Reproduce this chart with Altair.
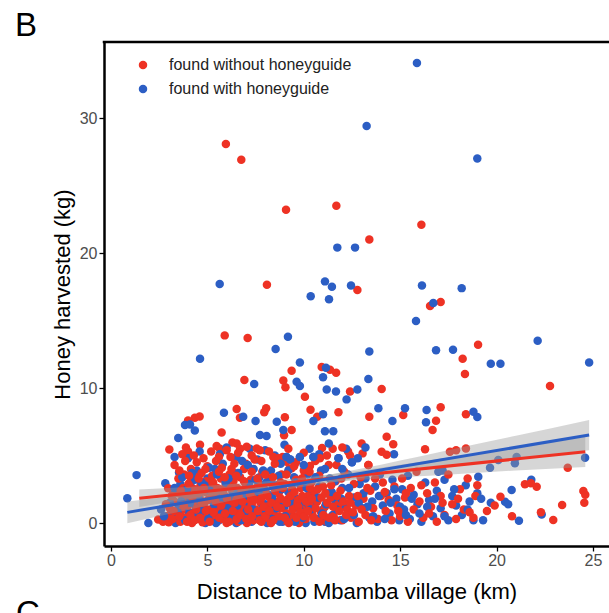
import altair as alt
import pandas as pd

RED = "#EE3224"
BLUE = "#2C5EC4"
FONT = "Liberation Sans"

groups = ["found without honeyguide", "found with honeyguide"]

# ---- red: found without honeyguide (km, kg) ----
red_high = [(5.96,28.07),(6.76,26.9),(9.08,23.2),(11.69,23.5),(16.1,22.1),(13.4,21.0),(8.09,17.65),
            (12.78,17.26),(16.55,16.07),(17.1,16.37),(5.9,13.9),(7.09,13.7),(19.04,13.2),(18.24,12.17),
            (9.37,11.28),(10.93,11.55),(11.36,11.35),(11.68,11.13),(6.92,10.6),(8.94,10.55),(9.05,10.05),
            (12.4,9.75),(10.06,9.36),(18.36,11.04),(14.04,9.92),(22.77,10.15)]
red_mid = [(4.35,7.8),(4.6,7.9),(4.0,7.6),(5.74,6.7),(3.03,5.45),(3.89,5.6),(4.0,5.3),(4.62,5.8),(5.48,5.7),
           (5.65,5.5),(6.52,8.45),(6.69,7.8),(8.05,8.5),(7.95,8.2),(9.02,7.83),(10.35,8.4),(10.7,7.87),(11.8,8.2),
           (9.37,6.89),(8.98,6.5),(6.3,5.97),(10.95,5.55),(11.5,5.5),(12.3,5.3),(15.16,8.0),(13.4,7.88),(17.1,8.57),
           (16.86,7.58),(16.68,6.89),(18.41,8.05),(14.3,6.4),(14.64,5.83),(13.0,5.9),(13.05,5.16),(14.04,5.28),
           (14.3,5.05),(16.29,5.46),(17.58,5.28),(17.9,5.4),(18.41,5.53),(12.4,5.0),(6.0,5.4),(6.52,5.9),(6.7,5.5),
           (7.04,5.65),(7.56,5.53),(7.72,5.4),(8.42,4.9),(8.9,4.9),(10.32,4.22),(10.06,3.68),(10.84,4.8),(9.11,4.54),
           (9.37,4.05),(6.2,4.9),(6.6,5.2),(7.0,4.4),(7.3,5.0),(7.8,4.6),(8.2,5.3),(8.7,4.8),(9.2,5.5),(9.6,4.5),
           (10.0,5.2),(10.6,4.6),(11.2,5.0),(11.7,4.3),(12.0,5.6),(5.2,5.3),(4.3,5.0),(3.7,5.1),(4.8,4.8),(5.6,4.9),
           (13.35,4.3)]
red_low = [(2.45,0.27),(2.7,0.1),(2.9,0.5),(3.0,0.05),(3.05,1.1),(2.97,2.57),(3.2,0.3),(3.3,1.6),(3.4,0.8),
           (3.45,2.2),(3.5,3.3),(3.3,4.3),(3.6,0.1),(3.65,0.9),(3.7,1.8),(3.75,2.6),(3.8,3.6),(3.85,4.6),(3.9,0.4),
           (4.0,1.3),(4.05,2.1),(4.1,3.0),(4.15,4.0),(4.2,0.0),(4.25,0.7),(4.3,1.6),(4.35,2.5),(4.4,3.4),(4.45,4.5),
           (4.5,0.3),(4.55,1.1),(4.6,1.9),(4.65,2.8),(4.7,3.7),(4.75,0.05),(4.8,0.6),(4.85,1.5),(4.9,2.3),(4.95,3.1),
           (5.0,4.2),(5.05,0.2),(5.1,1.0),(5.15,1.8),(5.2,2.7),(5.25,3.5),(5.3,0.4),(5.35,1.3),(5.4,2.2),(5.45,4.6),
           (5.5,0.1),(5.55,0.8),(5.6,1.6),(5.65,2.5),(5.7,3.3),(5.75,4.1),(5.8,0.3),(5.85,1.2),(5.9,2.0),(5.95,2.9),
           (6.0,0.0),(6.05,0.6),(6.1,1.4),(6.15,3.6),(6.2,0.2),(6.25,1.0),(6.3,2.3),(6.35,3.1),(6.4,4.4),(6.45,0.5),
           (6.5,1.7),(6.55,2.6),(6.6,0.1),(6.65,0.9),(6.7,3.4),(6.75,1.3),(6.8,2.1),(6.85,0.4),(6.9,4.0),(6.95,1.0),
           (7.0,2.8),(7.05,0.0),(7.1,1.8),(7.2,0.6),(7.25,3.2),(7.3,1.4),(7.35,2.3),(7.4,0.2),(7.45,4.7),(7.5,1.0),
           (7.55,2.0),(7.6,0.3),(7.7,2.9),(7.75,1.5),(7.8,0.1),(7.85,3.8),(7.9,0.8),(8.0,2.4),(8.05,1.2),(8.1,0.4),
           (8.2,3.3),(8.25,1.9),(8.3,0.0),(8.4,2.7),(8.45,0.9),(8.5,4.4),(8.55,1.6),(8.6,0.3),(8.7,2.2),(8.8,1.1),
           (8.85,3.6),(8.9,0.2),(9.0,2.9),(9.1,0.7),(9.2,1.8),(9.25,4.0),(9.3,0.1),(9.4,2.5),(9.45,1.3),(9.5,0.5),
           (9.6,3.2),(9.7,1.7),(9.75,0.0),(9.85,2.6),(9.9,1.0),(10.0,3.9),(10.1,0.3),(10.2,2.0),(10.3,1.3),(10.4,3.0),
           (10.45,0.6),(10.55,2.3),(10.6,0.2),(10.7,1.6),(10.8,3.5),(10.9,0.8),(11.0,2.7),(11.1,1.2),(11.2,0.1),
           (11.3,4.3),(11.4,1.9),(11.55,0.5),(11.65,3.1),(11.8,1.4),(11.9,2.4),(12.0,0.2),(12.1,3.8),(12.25,1.0),
           (12.35,2.0),(12.45,0.4),(12.6,2.9),(12.7,1.3),(12.85,0.1),(12.95,3.4),(13.1,1.8),(13.2,0.6),(13.35,4.3),
           (13.45,2.4),(13.6,1.1),(13.7,3.3),(13.85,0.3),(14.0,2.0),(14.1,3.0),(14.25,0.9),(14.4,1.7),(14.55,0.2),
           (14.7,2.7),(14.85,1.3),(15.0,0.5),(15.1,3.3),(15.25,1.9),(15.4,0.1),(15.55,2.6),(15.7,1.0),(15.85,3.8),
           (16.0,1.6),(16.2,0.4),(16.4,2.2),(16.6,1.2),(16.8,3.0),(16.9,0.1),(17.1,2.0),(17.3,0.6),(17.5,3.6),
           (17.7,1.4),(17.9,0.3),(18.1,2.5),(18.3,1.0),(18.5,3.3),(18.8,0.4),(19.0,2.8),(18.9,2.0),(19.9,1.3),
           (20.2,1.95),(19.5,0.9),(21.47,2.87),(21.78,2.94),(22.08,2.69),(22.3,0.8),(22.94,0.22),(23.4,1.33),
           (24.5,2.37),(24.6,2.1),(24.55,1.5),(23.69,4.1),(20.8,0.5)]
red_low2 = [(2.85,1.4),(3.15,2.0),(3.25,0.9),(3.55,0.5),(3.62,2.4),(3.78,1.3),(3.95,0.1),(4.02,2.9),(4.12,0.6),
            (4.22,1.9),(4.33,0.2),(4.42,1.0),(4.52,2.2),(4.62,0.4),(4.72,1.5),(4.82,2.6),(4.92,0.9),(5.02,1.7),
            (5.12,0.1),(5.22,2.1),(5.32,0.8),(5.42,1.6),(5.52,2.6),(5.62,0.4),(5.72,1.3),(5.82,2.3),(5.92,0.7),
            (6.02,1.8),(6.12,0.1),(6.22,2.6),(6.32,0.9),(6.42,1.5),(6.52,0.3),(6.62,2.0),(6.72,0.6),(6.82,1.6),
            (6.92,2.5),(7.02,0.3),(7.12,1.0),(7.22,2.1),(7.32,0.5),(7.42,1.7),(7.52,2.6),(7.62,0.9),(7.72,0.2),
            (7.82,1.9),(7.92,1.2),(8.02,0.5),(8.12,2.0),(8.22,0.9),(8.32,1.5),(8.42,0.2),(8.52,2.4),(8.62,1.2),
            (8.72,0.5),(8.82,1.8),(8.92,2.6),(9.02,0.4),(9.12,1.5),(9.22,0.0),(9.32,2.0),(9.42,1.0),(9.52,2.3),
            (9.62,0.4),(9.72,1.2),(9.82,0.8),(9.92,2.0),(10.02,0.5),(10.12,1.6),(10.22,0.9),(10.32,2.6),(10.42,1.8),
            (10.52,0.4),(10.62,1.1),(10.72,2.5),(10.82,0.1),(10.92,1.9),(11.02,0.6),(11.12,2.2),(11.22,1.5),
            (11.32,0.4),(11.42,2.8),(11.52,1.2),(11.62,0.2),(11.72,2.0),(11.85,0.9),(11.95,3.3),(12.05,1.6),
            (12.2,0.6),(12.4,1.5),(12.55,0.8),(12.8,2.0),(13.0,1.0),(13.3,2.6),(13.5,0.2),(14.2,2.3),(14.9,0.9),
            (15.3,2.2),(16.1,2.8),(16.5,0.7),(17.2,1.5),(18.0,1.8),(18.6,0.8),
            (3.55,3.9),(4.05,3.5),(4.55,3.3),(4.9,4.0),(5.3,3.0),(5.6,3.8),(5.9,3.4),(6.25,4.0),(6.5,3.5),(6.9,3.1),
            (7.3,3.8),(7.6,3.3),(8.0,3.6),(8.4,3.4),(8.8,3.0),(9.1,3.6),(9.5,4.2),(9.9,3.3),(10.3,3.8)]

# ---- blue: found with honeyguide (km, kg) ----
blue_high = [(15.87,34.07),(13.26,29.4),(19.0,27.0),(11.74,20.4),(12.66,20.4),(5.64,17.7),(11.1,17.9),
             (11.46,17.5),(12.45,17.6),(10.36,16.8),(11.31,16.57),(16.13,17.6),(18.19,17.4),(16.72,16.3),
             (15.82,14.96),(9.18,13.8),(8.54,12.9),(4.62,12.17),(9.8,11.9),(13.4,12.7),(16.86,12.8),(17.74,12.84),
             (22.13,13.5),(19.7,11.8),(20.2,11.8),(24.8,11.9),(7.43,10.3),(9.63,10.47),(9.8,10.15),(11.0,10.8),
             (11.19,9.9),(11.67,9.75),(13.35,10.67),(12.78,9.9),(11.15,11.5),(12.22,9.16)]
blue_mid = [(5.86,8.17),(3.84,7.26),(4.1,7.3),(4.35,6.85),(3.49,6.3),(5.65,5.1),(6.86,7.88),(7.5,7.55),(8.6,7.5),
            (10.5,7.56),(11.0,8.05),(8.94,6.89),(7.73,6.52),(8.07,6.45),(11.1,6.8),(11.53,6.8),(13.87,8.5),
            (15.25,8.5),(14.6,7.55),(16.37,8.37),(16.34,7.46),(18.8,8.25),(19.0,7.85),(14.68,5.1),(24.59,4.84),
            (9.8,4.9),(10.5,4.9),(11.8,4.8),(12.5,4.5),(9.1,4.9),(9.3,4.7),(6.0,5.6),(6.5,4.9),(7.2,5.5),(7.6,4.7),
            (8.0,5.4),(8.5,5.0),(9.0,5.8),(10.3,5.5),(10.8,5.1),(11.3,5.9),(12.2,5.5),(4.0,4.8),(4.6,5.3),(3.3,4.9),
            (12.8,4.8),(13.2,5.6),(16.98,3.8),(17.2,3.9),(19.66,4.1),(20.09,4.67),(21.04,4.9),(20.95,4.42)]
blue_low = [(0.85,1.83),(1.33,3.55),(1.94,0.0),(2.82,2.94),(3.53,3.75),(2.6,1.0),(2.9,0.2),(3.1,0.6),(3.2,2.1),
            (3.35,0.0),(3.5,1.3),(3.6,2.9),(3.75,0.4),(3.9,1.9),(4.0,0.9),(4.15,2.7),(4.3,0.2),(4.4,1.2),(4.45,3.9),
            (4.6,0.7),(4.7,2.4),(4.8,1.3),(4.9,0.0),(5.0,3.3),(5.1,1.7),(5.2,0.5),(5.3,2.8),(5.4,4.0),(5.5,1.1),
            (5.6,0.2),(5.7,2.2),(5.8,4.4),(5.9,1.5),(6.0,2.7),(6.1,0.4),(6.2,1.9),(6.3,3.8),(6.4,0.9),(6.5,0.0),
            (6.6,2.2),(6.7,1.2),(6.8,4.6),(6.9,0.6),(7.0,3.0),(7.1,1.5),(7.2,2.5),(7.3,0.1),(7.4,4.0),(7.5,0.9),
            (7.6,1.9),(7.7,3.4),(7.8,0.3),(7.9,2.6),(8.0,1.4),(8.1,0.0),(8.2,2.1),(8.3,3.9),(8.4,1.0),(8.5,0.4),
            (8.6,2.8),(8.7,1.6),(8.8,4.4),(8.9,0.1),(9.0,1.2),(9.1,4.9),(9.2,2.3),(9.3,4.7),(9.4,0.6),(9.5,3.4),
            (9.6,1.8),(9.7,0.2),(9.8,4.9),(9.9,2.8),(10.0,1.4),(10.1,0.0),(10.2,3.6),(10.3,2.1),(10.4,0.8),(10.5,4.9),
            (10.6,1.6),(10.7,0.3),(10.8,2.7),(10.9,3.9),(11.0,1.0),(11.1,0.1),(11.2,2.2),(11.35,3.3),(11.5,0.6),
            (11.6,1.7),(11.8,4.8),(11.9,0.2),(12.0,2.6),(12.15,1.2),(12.3,3.6),(12.5,4.5),(12.45,0.5),(12.6,1.9),
            (12.75,0.0),(12.9,2.9),(13.05,1.1),(13.2,3.3),(13.4,0.4),(13.55,1.6),(13.7,2.7),(13.8,0.1),(13.95,3.6),
            (14.1,1.3),(14.3,2.2),(14.45,0.7),(14.6,3.2),(14.8,1.8),(14.95,0.2),(15.1,2.5),(15.2,1.0),(15.4,3.5),
            (15.5,0.3),(15.7,2.1),(15.9,1.4),(16.1,0.1),(16.3,3.0),(16.5,1.7),(16.7,0.5),(16.9,2.4),(17.1,1.1),
            (17.3,3.2),(17.5,0.2),(17.7,2.0),(17.9,1.3),(18.2,0.6),(18.4,2.8),(18.6,1.6),(18.8,0.2),(19.05,3.43),
            (19.0,2.2),(19.3,0.2),(19.7,1.5),(21.8,3.2),(20.78,2.44),(20.44,1.58),(20.6,1.4),(21.16,0.17),(22.34,0.64)]
blue_low2 = [(2.75,0.5),(3.05,1.5),(3.3,2.6),(3.45,0.8),(3.65,1.6),(3.85,0.2),(3.95,2.5),(4.1,1.5),(4.25,0.5),
             (4.35,3.2),(4.55,1.8),(4.75,0.9),(4.85,2.8),(5.05,0.3),(5.15,2.4),(5.35,1.4),(5.45,0.0),(5.65,1.8),
             (5.75,0.7),(5.95,3.0),(6.05,1.1),(6.25,0.4),(6.35,2.3),(6.55,1.3),(6.75,0.2),(6.85,1.9),(7.05,0.9),
             (7.15,2.9),(7.35,1.0),(7.55,0.5),(7.65,2.3),(7.85,1.1),(8.05,3.0),(8.15,0.6),(8.35,1.9),(8.55,1.1),
             (8.75,0.1),(8.85,2.5),(9.05,0.5),(9.25,1.5),(9.45,2.2),(9.55,0.1),(9.75,1.1),(9.95,0.4),(10.15,2.6),
             (10.35,1.0),(10.55,0.1),(10.75,1.9),(10.95,0.7),(11.15,1.4),(11.3,0.0),(11.45,2.3),(11.7,1.0),
             (11.95,1.8),(12.1,0.3),(12.35,2.6),(12.6,0.6),(12.85,1.5),(13.1,2.2),(13.3,1.2),(13.6,0.5),(13.9,2.0),
             (14.2,0.3),(14.5,1.5),(14.7,2.5),(15.0,1.2),(15.3,0.6),(15.6,1.8),(16.0,0.7),(16.4,1.2),(16.8,1.8),
             (17.3,0.5),(17.8,2.5),(18.5,1.0),(19.2,1.8),
             (3.7,3.4),(4.2,3.7),(4.7,3.0),(5.1,4.1),(5.5,3.6),(6.1,3.3),(6.6,3.7),(7.1,4.3),(7.5,3.2),(7.9,3.9),
             (8.3,3.1),(8.7,3.5),(9.2,3.9),(9.6,3.0),(10.0,4.3),(10.6,3.4),(11.1,4.0),(11.6,3.1),(12.0,4.0)]

# ---- fitted lines and confidence bands ----
fit_km_red = [1.47, 24.6]
fit_kg_red = [1.83, 5.28]
fit_km_blue = [0.85, 24.8]
fit_kg_blue = [0.79, 6.52]
band_km_red = [1.47, 5, 9, 13, 17, 21, 24.6]
band_lo_red = [1.18, 1.96, 2.67, 3.2, 3.54, 3.89, 4.16]
band_hi_red = [2.48, 2.76, 3.23, 3.9, 4.74, 5.59, 6.4]
band_km_blue = [0.85, 5, 9, 13, 17, 21, 24.8]
band_lo_blue = [-0.01, 1.28, 2.44, 3.34, 4.05, 4.76, 5.39]
band_hi_blue = [1.59, 2.28, 3.04, 4.04, 5.25, 6.46, 7.63]

red_pts = red_high + red_mid + red_low + red_low2
blue_pts = blue_high + blue_mid + blue_low + blue_low2
rows = []
for i in range(max(len(red_pts), len(blue_pts))):
    if i < len(blue_pts):
        rows.append((blue_pts[i][0], blue_pts[i][1], groups[1]))
    if i < len(red_pts):
        rows.append((red_pts[i][0], red_pts[i][1], groups[0]))
df = pd.DataFrame(rows, columns=["km", "kg", "group"])

W, H = 505, 504
xscale = alt.Scale(domain=[-0.36, 25.83], nice=False, zero=False)
yscale = alt.Scale(domain=[-1.70, 35.63], nice=False, zero=False)

points = alt.Chart(df).mark_circle(size=72, opacity=1).encode(
    x=alt.X("km:Q", scale=xscale,
            axis=alt.Axis(values=[0, 5, 10, 15, 20, 25], title="Distance to Mbamba village (km)",
                          titlePadding=13, labelPadding=1)),
    y=alt.Y("kg:Q", scale=yscale,
            axis=alt.Axis(values=[0, 10, 20, 30], title="Honey harvested (kg)",
                          titlePadding=5, labelPadding=2)),
    color=alt.Color("group:N", scale=alt.Scale(domain=groups, range=[RED, BLUE]),
                    legend=alt.Legend(orient="none", legendX=31, legendY=15, title=None,
                                      labelFontSize=16, labelFont=FONT, labelColor="#222222",
                                      labelLimit=0, symbolSize=72, symbolType="circle", labelOffset=18,
                                      rowPadding=8, padding=0, symbolStrokeWidth=0)),
)

band_red_df = pd.DataFrame({"km": band_km_red, "lo": band_lo_red, "hi": band_hi_red})
band_blue_df = pd.DataFrame({"km": band_km_blue, "lo": band_lo_blue, "hi": band_hi_blue})

def band(d):
    return alt.Chart(d).mark_area(color="#999999", opacity=0.4, interpolate="monotone").encode(
        x=alt.X("km:Q", scale=xscale), y=alt.Y("lo:Q", scale=yscale), y2="hi:Q")

def fit(kms, kgs, col):
    d = pd.DataFrame({"km": kms, "kg": kgs})
    return alt.Chart(d).mark_line(color=col, strokeWidth=3).encode(
        x=alt.X("km:Q", scale=xscale), y=alt.Y("kg:Q", scale=yscale))

top_border = alt.Chart(pd.DataFrame({"a": [0]})).mark_rule(color="black", strokeWidth=2.5).encode(
    x=alt.value(-1.25), x2=alt.value(W), y=alt.value(0))

lab_b = alt.Chart(pd.DataFrame({"t": ["B"]})).mark_text(
    fontSize=33, font=FONT, color="black", align="center", baseline="alphabetic").encode(
    text="t:N", x=alt.value(-78), y=alt.value(-6))
lab_c = alt.Chart(pd.DataFrame({"t": ["C"]})).mark_text(
    fontSize=33, font=FONT, color="black", align="center", baseline="alphabetic").encode(
    text="t:N", x=alt.value(-76), y=alt.value(582))

chart = alt.layer(
    points, band(band_red_df), band(band_blue_df),
    fit(fit_km_red, fit_kg_red, RED), fit(fit_km_blue, fit_kg_blue, BLUE),
    top_border, lab_b, lab_c,
).properties(
    width=W, height=H,
    autosize=alt.AutoSizeParams(type="none"),
    padding={"left": 104, "top": 42, "right": 0, "bottom": 67},
).configure_view(stroke=None).configure_axis(
    grid=False, domainColor="black", domainWidth=2.5, tickColor="black", tickWidth=1.3, tickSize=5,
    labelFont=FONT, labelFontSize=16, labelColor="#4d4d4d",
    titleFont=FONT, titleFontSize=22, titleFontWeight="normal", titleColor="black",
)

chart.save("out.html", embed_options={"renderer": "svg", "actions": False})
